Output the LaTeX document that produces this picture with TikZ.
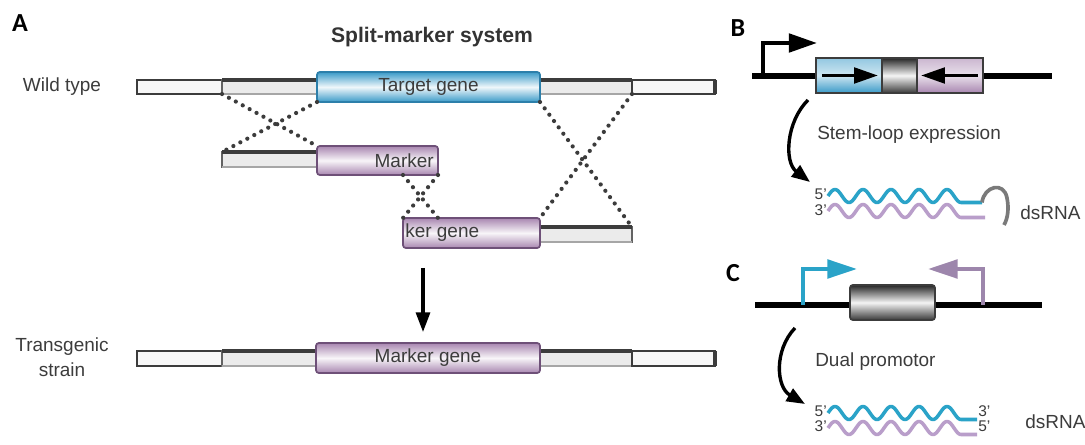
\documentclass[tikz,border=0pt]{standalone}
\usepackage{fontspec}
\setmainfont{Liberation Sans}
\newfontfamily\lettfont{Carlito}
\usetikzlibrary{arrows.meta,fit,calc}
\definecolor{txt}{HTML}{3C3C3C}
\definecolor{ttl}{HTML}{333333}
\definecolor{blueE}{HTML}{3A9AC8}
\definecolor{blueD}{HTML}{2C7FAA}
\definecolor{purE}{HTML}{A886B0}
\definecolor{purD}{HTML}{6E5078}
\definecolor{barD}{HTML}{3C3C3C}
\definecolor{rnaB}{HTML}{2AA3C8}
\definecolor{rnaP}{HTML}{B99ECA}
\definecolor{loopG}{HTML}{7A7A7A}
\begin{document}
\begin{tikzpicture}[x=0.025cm,y=-0.025cm,
  lab/.style={font=\fontsize{13.5}{17.8}\selectfont, text=txt, inner sep=0pt},
  prime/.style={font=\fontsize{11}{12}\selectfont, text=txt, inner sep=0pt},
  letter/.style={font=\lettfont\bfseries\fontsize{18.5}{20}\selectfont, inner sep=0pt},
  lbar/.style={draw=barD, line width=1.1pt, fill=gray!6, inner sep=0pt, outer sep=0pt},
  dbar/.style={draw=barD!80, line width=1.1pt, fill=gray!16, inner sep=0pt, outer sep=0pt},
  topedge/.style={draw=barD, line width=3.4pt},
  botedge/.style={draw=gray!70, line width=2pt},
  bluecyl/.style={draw=blueD, line width=1.2pt, rounded corners=2pt, top color=blueE, bottom color=blueE, middle color=blueE!8, inner sep=0pt, outer sep=0pt},
  purcyl/.style={draw=purD, line width=1.2pt, rounded corners=2pt, top color=purE, bottom color=purE, middle color=purE!8, inner sep=0pt, outer sep=0pt},
  graycyl/.style={draw=barD, line width=1.2pt, rounded corners=2pt, top color=gray!30!black, bottom color=gray!45!black, middle color=gray!8, inner sep=0pt, outer sep=0pt},
  cross/.style={line width=3pt, dash pattern=on 0pt off 5.6pt, line cap=round, draw=barD},
  dna/.style={line width=3.6pt, draw=black},
  curvarrow/.style={line width=2.4pt, -{Triangle[length=13pt,width=10pt]}},
  rna/.style={line width=2.5pt, line join=round}
]
\fill[white] (0,0) rectangle (1085,445);
\useasboundingbox (0,0) rectangle (1085,445);

% ---------- Panel A ----------
\node[letter] (la) at (20,23) {A};
\node[font=\bfseries\fontsize{15}{17}\selectfont, text=ttl, inner sep=0pt] (title) at (432,37) {Split-marker system};
\node[lab] (wtl) at (62,87) {Wild type};
\node[lab, align=center] (tsl) at (62,357) {Transgenic\\strain};

% wild type row
\node[lbar, fit={(137,80) (222,94)}] (wl1) {};
\node[dbar, fit={(222,80) (317,94)}] (wd1) {};
\draw[topedge] (wd1.north west) -- (wd1.north east);
\draw[botedge] (wd1.south west) -- (wd1.south east);
\node[dbar, fit={(540,80) (632,94)}] (wd2) {};
\draw[topedge] (wd2.north west) -- (wd2.north east);
\draw[botedge] (wd2.south west) -- (wd2.south east);
\node[lbar, fit={(632,80) (715,94)}] (wl2) {};
\draw[line width=3pt, barD] (wl2.north east) -- (wl2.south east);
\node[bluecyl, fit={(317,72) (540,102)}] (tg) {};
\node[lab] at (tg.center) {Target gene};

% marker fragment row
\node[dbar, fit={(222,152) (317,167)}] (md1) {};
\draw[topedge] (md1.north west) -- (md1.north east);
\draw[botedge] (md1.south west) -- (md1.south east);
\node[purcyl, fit={(317,146) (438,175)}] (mk) {};
\node[lab, anchor=east] at ($(mk.east)+(-4,0)$) {Marker};

% ker gene row
\node[dbar, fit={(540,227) (632,242)}] (kd) {};
\draw[topedge] (kd.north west) -- (kd.north east);
\draw[botedge] (kd.south west) -- (kd.south east);
\node[purcyl, fit={(403,218) (540,248)}] (kg) {};
\node[lab, anchor=west] at ($(kg.west)+(2,0)$) {ker gene};

% crossovers
\draw[cross] (wd1.south west) -- (mk.north west);
\draw[cross] (tg.south west) -- (md1.north west);
\draw[cross] (tg.south east) -- (kd.north east);
\draw[cross] (wd2.south east) -- (kg.north east);
\draw[cross] (kg.north west |- mk.south) -- (mk.south east |- kg.north);
\draw[cross] (mk.south east) -- (kg.north west);

% arrow down
\coordinate (arS) at (423,268);
\coordinate (arE) at (423,332);
\draw[line width=2.2pt, -{Triangle[length=14pt,width=10pt]}] (arS) -- (arE);

% transgenic row
\node[lbar, fit={(137,351) (222,366)}] (tl1) {};
\node[dbar, fit={(222,351) (316,366)}] (td1) {};
\draw[topedge] (td1.north west) -- (td1.north east);
\draw[botedge] (td1.south west) -- (td1.south east);
\node[dbar, fit={(540,351) (632,366)}] (td2) {};
\draw[topedge] (td2.north west) -- (td2.north east);
\draw[botedge] (td2.south west) -- (td2.south east);
\node[lbar, fit={(632,351) (715,366)}] (tl2) {};
\draw[line width=3pt, barD] (tl2.north east) -- (tl2.south east);
\node[purcyl, fit={(316,343) (540,373)}] (mg) {};
\node[lab] at (mg.center) {Marker gene};

% ---------- Panel B ----------
\node[letter] (lb) at (738,28) {B};
\coordinate (bL) at (752,76);
\coordinate (bR) at (1052,76);
\draw[dna] (bL) -- (bR);
\node[bluecyl, rounded corners=0pt, draw=barD, top color=blueE!55, middle color=blueE!25, fit={(816,58) (882,93)}] (bb) {};
\node[graycyl, rounded corners=0pt, fit={(882,58) (917,93)}] (bg) {};
\node[purcyl, rounded corners=0pt, draw=barD, top color=purE!60, middle color=purE!25, fit={(917,58) (983,93)}] (bp) {};
\coordinate (bprom) at (763,76);
\draw[line width=3pt, -{Triangle[length=20pt,width=13pt]}] (bprom) |- (817,43);
\draw[line width=2.6pt, -{Triangle[length=17pt,width=11pt]}] ($(bb.west)+(6,0)$) -- ($(bb.east)+(-4,0)$);
\draw[line width=2.6pt, -{Triangle[length=17pt,width=11pt]}] ($(bp.east)+(-5,0)$) -- ($(bp.west)+(4,0)$);

\coordinate (bcs) at (808,100);
\coordinate (bce) at (810,182);
\draw[curvarrow] (bcs) .. controls (786,122) and (784,162) .. (bce);
\node[lab, anchor=west] (sle) at (817,135) {Stem-loop expression};

\node[prime, anchor=east] (b5) at (827,194) {5'};
\node[prime, anchor=east] (b3) at (827,210) {3'};
\draw[rna, rnaB] plot[domain=0:4.75, samples=140, smooth] ({828+28*\x},{196-6.5*sin(360*\x)}) -- (982,202.5);
\draw[rna, rnaP] plot[domain=0:4.75, samples=140, smooth] ({828+28*\x},{211-6.5*sin(360*\x)}) -- (985,217.5);
\draw[rna, loopG, line width=2.6pt] (982,202.5) .. controls (984,186) and (1004,181) .. (1007,198) .. controls (1009,208) and (1008,218) .. (1004,225);
\node[lab, anchor=west] (bds) at (1020,213) {dsRNA};

% ---------- Panel C ----------
\node[letter] (lc) at (733,273) {C};
\coordinate (cL) at (755,305);
\coordinate (cR) at (1042,305);
\draw[dna] (cL) -- (cR);
\node[graycyl, fit={(850,285) (935,320)}] (cg) {};
\coordinate (cpb) at (803,305);
\coordinate (cpp) at (983,305);
\draw[line width=3pt, rnaB, -{Triangle[length=21pt,width=13pt]}] (cpb) |- (857,269);
\draw[line width=3pt, rnaP!85!black, -{Triangle[length=21pt,width=13pt]}] (cpp) |- (928,269);

\coordinate (ccs) at (795,328);
\coordinate (cce) at (805,404);
\draw[curvarrow] (ccs) .. controls (774,350) and (776,387) .. (cce);
\node[lab, anchor=west] (dp) at (815,362) {Dual promotor};

\node[prime, anchor=east] (c5) at (827,411) {5'};
\node[prime, anchor=east] (c3) at (827,426) {3'};
\draw[rna, rnaB] plot[domain=0:4.75, samples=140, smooth] ({828+28*\x},{413-6.5*sin(360*\x)}) -- (977,419.5);
\draw[rna, rnaP] plot[domain=0:4.75, samples=140, smooth] ({828+28*\x},{428-6.5*sin(360*\x)}) -- (977,434.5);
\node[prime, anchor=west] (c3r) at (978,411) {3'};
\node[prime, anchor=west] (c5r) at (978,426) {5'};
\node[lab, anchor=west] (cds) at (1025,422) {dsRNA};
\end{tikzpicture}
\end{document}
